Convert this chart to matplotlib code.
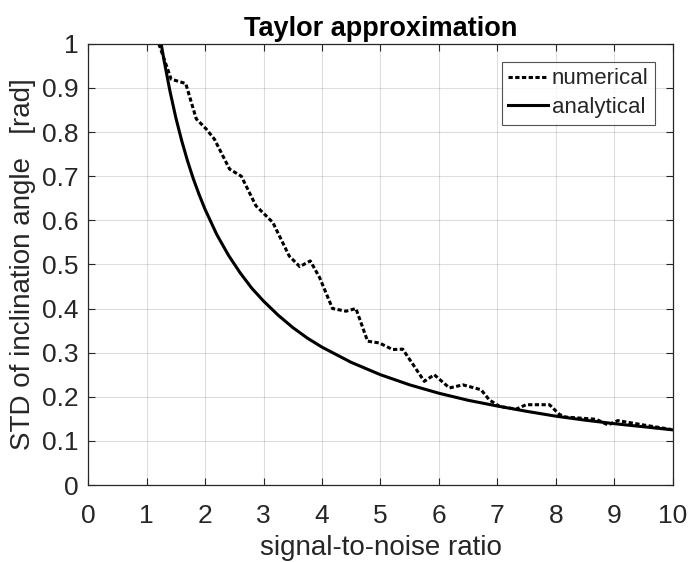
import matplotlib
matplotlib.use("Agg")
import matplotlib.pyplot as plt

# numerical (simulated) STD
snr_num = [1.21, 1.36, 1.42, 1.67, 1.85, 2.02, 2.16, 2.42, 2.62, 2.87,
           3.16, 3.44, 3.62, 3.80, 3.96, 4.18, 4.41, 4.58, 4.78, 4.98,
           5.21, 5.38, 5.75, 5.92, 6.18, 6.41, 6.72, 6.86, 7.04, 7.32,
           7.49, 7.89, 8.06, 8.17, 8.69, 8.89, 9.06, 9.50, 9.97]
std_num = [1.000, 0.943, 0.920, 0.910, 0.830, 0.807, 0.784, 0.716, 0.700, 0.633,
           0.595, 0.519, 0.495, 0.508, 0.470, 0.400, 0.394, 0.400, 0.326, 0.322,
           0.307, 0.308, 0.235, 0.250, 0.220, 0.227, 0.216, 0.193, 0.178, 0.172,
           0.182, 0.182, 0.160, 0.154, 0.149, 0.136, 0.146, 0.136, 0.126]

# analytical STD
snr_ana = [1.25, 1.3, 1.4, 1.5, 1.6, 1.7, 1.8, 1.9, 2.0, 2.2, 2.4, 2.6, 2.8,
           3.0, 3.25, 3.5, 3.75, 4.0, 4.5, 5.0, 5.5, 6.0, 6.5, 7.0, 7.5,
           8.0, 8.5, 9.0, 9.5, 10.0]
std_ana = [1.000, 0.962, 0.893, 0.833, 0.781, 0.735, 0.694, 0.658, 0.625,
           0.568, 0.521, 0.481, 0.446, 0.417, 0.385, 0.357, 0.333, 0.3125,
           0.278, 0.250, 0.227, 0.208, 0.192, 0.179, 0.167, 0.156, 0.147,
           0.139, 0.132, 0.125]

plt.rcParams["font.family"] = ["Liberation Sans", "DejaVu Sans"]
dark = "#262626"

fig = plt.figure(figsize=(6.88, 5.62), dpi=100)
ax = fig.add_axes([0.128, 0.137, 0.850, 0.785])

ax.plot(snr_num, std_num, color="black", lw=2.2, linestyle=(0, (1.4, 0.8)),
        label="numerical")
ax.plot(snr_ana, std_ana, color="black", lw=2.2, label="analytical")

ax.set_xlim(0, 10)
ax.set_ylim(0, 1)
ax.set_xticks(range(0, 11))
ax.set_yticks([i / 10 for i in range(11)])
ax.set_yticklabels(["0"] + [f"{i / 10:g}" for i in range(1, 10)] + ["1"])
ax.grid(True, color="#000000", alpha=0.13, lw=0.8)
ax.tick_params(direction="in", top=True, right=True, length=5, width=0.8,
               labelsize=19, colors=dark, labelcolor=dark)
ax.tick_params(axis="x", pad=14)
ax.tick_params(axis="y", pad=7)
for s in ax.spines.values():
    s.set_color(dark)
    s.set_linewidth(0.9)

ax.set_xlabel("signal-to-noise ratio", fontsize=20, color=dark, labelpad=5)
ax.set_ylabel("STD of inclination angle   [rad]", fontsize=20, color=dark,
              labelpad=4)
ax.set_title("Taylor approximation", fontsize=19.5, fontweight="bold", pad=6)

leg = ax.legend(loc="upper right", fontsize=16, frameon=True, fancybox=False,
                borderpad=0.3, handlelength=1.8, handletextpad=0.15,
                labelspacing=0.35, borderaxespad=0.8)
leg.get_frame().set_edgecolor(dark)
leg.get_frame().set_linewidth(0.8)
for t in leg.get_texts():
    t.set_color(dark)

fig.savefig("out.png", dpi=100)
